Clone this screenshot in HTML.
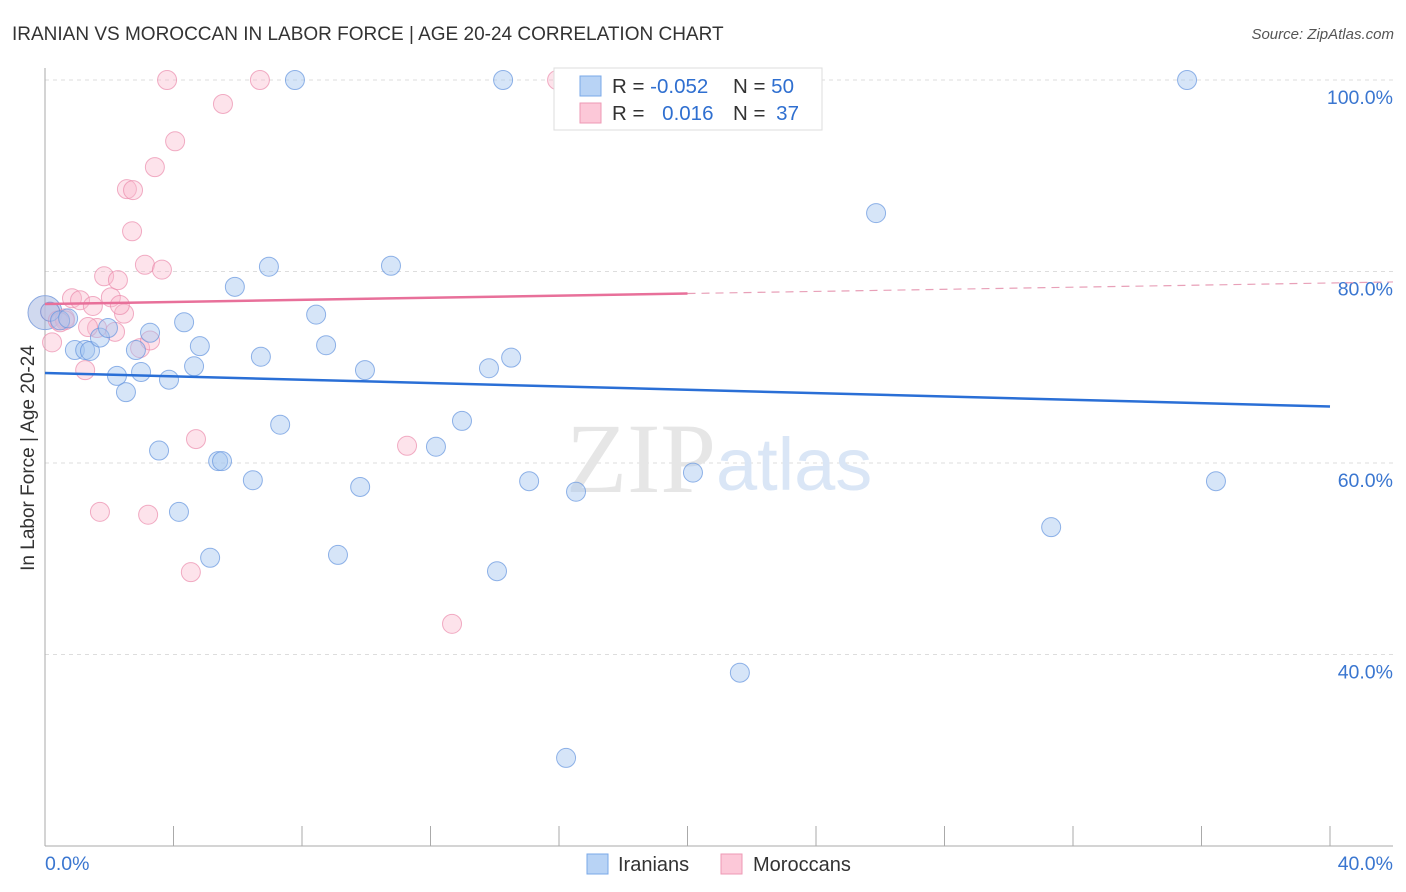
<!DOCTYPE html>
<html><head><meta charset="utf-8"><style>
body{margin:0;background:#fff;font-family:"Liberation Sans",sans-serif}
svg{display:block}
</style></head><body>
<svg id="c" width="1406" height="892">
<text x="12" y="40" font-size="19" fill="#333">IRANIAN VS MOROCCAN IN LABOR FORCE | AGE 20-24 CORRELATION CHART</text>
<text x="1394" y="39" font-size="15" fill="#555" font-style="italic" text-anchor="end">Source: ZipAtlas.com</text>
<text x="0" y="0" transform="translate(34,458) rotate(-90)" font-size="19" fill="#333" text-anchor="middle">In Labor Force | Age 20-24</text>
<g id="grid"></g>
<text x="716" y="492" font-size="100" fill="#e6e6e6" font-family="Liberation Serif" text-anchor="end">ZIP</text>
<text x="716" y="490" font-size="74" fill="#dae6f6">atlas</text>
<g id="pts"></g>
<g id="lines"></g>
<g>
<rect x="554" y="68" width="268" height="62" fill="#fff" stroke="#ddd"/>
<rect x="580" y="76" width="21" height="20" fill="#b8d3f5" stroke="#7aa8e8"/>
<rect x="580" y="103" width="21" height="20" fill="#fcc8d8" stroke="#ee99b4"/>
<text x="612" y="93" font-size="20.5" fill="#333">R = <tspan fill="#2f6fd0">-0.052</tspan></text>
<text x="733" y="93" font-size="20.5" fill="#333">N = <tspan fill="#2f6fd0">50</tspan></text>
<text x="612" y="120" font-size="20.5" fill="#333">R = <tspan fill="#2f6fd0" dx="12">0.016</tspan></text>
<text x="733" y="120" font-size="20.5" fill="#333">N = <tspan fill="#2f6fd0" dx="5">37</tspan></text>
</g>
<g>
<rect x="587" y="854" width="21" height="20" fill="#b8d3f5" stroke="#7aa8e8"/>
<text x="618" y="871" font-size="20" fill="#333">Iranians</text>
<rect x="721" y="854" width="21" height="20" fill="#fcc8d8" stroke="#ee99b4"/>
<text x="753" y="871" font-size="20" fill="#333">Moroccans</text>
</g>
</svg>
<script>
const blueX=[0.16,0.47,0.72,0.93,1.25,1.40,1.71,1.96,2.24,2.52,2.83,2.99,3.27,3.55,3.86,4.17,4.33,4.64,4.82,5.14,5.39,5.51,5.91,6.47,6.72,6.97,7.32,7.78,8.44,8.75,9.12,9.81,9.96,10.77,12.17,12.98,13.82,14.07,14.26,14.51,15.07,16.53,18.46,20.17,21.63,25.87,31.32,35.55,36.45,16.22];
const blueY=[75.8,74.9,75.1,71.8,71.8,71.7,73.1,74.1,69.1,67.4,71.8,69.5,73.6,61.3,68.7,54.9,74.7,70.1,72.2,50.1,60.2,60.2,78.4,58.2,71.1,80.5,64.0,100,75.5,72.3,50.4,57.5,69.7,80.6,61.7,64.4,69.9,48.7,100,71.0,58.1,57.0,100,59.0,38.1,86.1,53.3,100,58.1,29.2];
const pinkX=[0.16,0.22,0.40,0.62,0.84,1.09,1.25,1.49,1.62,1.71,1.84,2.05,2.18,2.27,2.46,2.55,2.74,2.71,2.96,3.11,3.21,3.27,3.42,3.64,3.80,4.05,4.54,4.70,5.54,6.69,11.27,12.67,15.94,0.62,1.34,2.33,0.47];
const pinkY=[75.8,72.6,74.9,75.1,77.2,77.0,69.7,76.4,74.1,54.9,79.5,77.3,73.7,79.1,75.6,88.6,88.5,84.2,72.0,80.7,54.6,72.8,90.9,80.2,100,93.6,48.6,62.5,97.5,100,61.8,43.2,100,74.9,74.2,76.5,74.7];
const blueTrend=[69.4,65.9];   // y at x=0 and x=40
const pinkTrend=[76.6,77.7];   // y at x=0 and x=20
const yTicks=[100,80,60,40];
const yTickLabels=["100.0%","80.0%","60.0%","40.0%"];
const xTicks=[0,4,8,12,16,20,24,28,32,36,40];
const NS="http://www.w3.org/2000/svg";
const sx=v=>45+v*32.125, sy=v=>80+(100-v)*9.575;
function mk(t,a,p){const e=document.createElementNS(NS,t);for(const k in a)e.setAttribute(k,a[k]);p.appendChild(e);return e;}
const grid=document.getElementById('grid');
yTicks.forEach((t,i)=>{
 const l=mk('line',{x1:45,x2:1393,y1:sy(t),y2:sy(t),stroke:'#ddd','stroke-dasharray':'4,4'},grid);
 
 
 const tx=mk('text',{x:1393,y:sy(t)+24,'font-size':19.5,fill:'#3a76d0','text-anchor':'end'},grid);
 tx.textContent=yTickLabels[i];
 
 
});
const ax=mk('line',{x1:45,x2:45,y1:68,y2:846,stroke:'#aaa'},grid);


const bx=mk('line',{x1:45,x2:1393,y1:846,y2:846,stroke:'#aaa'},grid);


xTicks.forEach(t=>{
 const l=mk('line',{x1:sx(t),x2:sx(t),y1:826,y2:846,stroke:'#aaa'},grid);
 
 
});
const xl0=mk('text',{x:45,y:870,'font-size':19.5,fill:'#3a76d0'},grid);xl0.textContent='0.0%';


const xl1=mk('text',{x:1393,y:870,'font-size':19.5,fill:'#3a76d0','text-anchor':'end'},grid);xl1.textContent='40.0%';


const pts=document.getElementById('pts');
const big=mk('circle',{cx:sx(0),cy:sy(75.7),r:17,fill:'rgba(150,170,220,0.45)',stroke:'#8aa8e0'},pts);


pinkX.forEach((x,i)=>{
 const c=mk('circle',{cx:sx(x),cy:sy(pinkY[i]),r:9.5,fill:'rgba(250,185,205,0.4)',stroke:'rgba(235,140,172,0.7)'},pts);
 
 
});
blueX.forEach((x,i)=>{
 const c=mk('circle',{cx:sx(x),cy:sy(blueY[i]),r:9.5,fill:'rgba(165,198,240,0.45)',stroke:'rgba(100,148,222,0.7)'},pts);
 
 
});
const lines=document.getElementById('lines');
const bl=mk('line',{x1:sx(0),y1:sy(blueTrend[0]),x2:sx(40),y2:sy(blueTrend[1]),stroke:'#2a6fd6','stroke-width':2.5},lines);


const slope=(pinkTrend[1]-pinkTrend[0])/20;
const pl=mk('line',{x1:sx(0),y1:sy(pinkTrend[0]),x2:sx(20),y2:sy(pinkTrend[1]),stroke:'#e8709a','stroke-width':2.5},lines);


const pd=mk('line',{x1:sx(20),y1:sy(pinkTrend[1]),x2:1393,y2:sy(pinkTrend[0]+slope*(1348/32.125)),stroke:'#e8a0b8','stroke-width':1.2,'stroke-dasharray':'8,6'},lines);


</script>
</body></html>
